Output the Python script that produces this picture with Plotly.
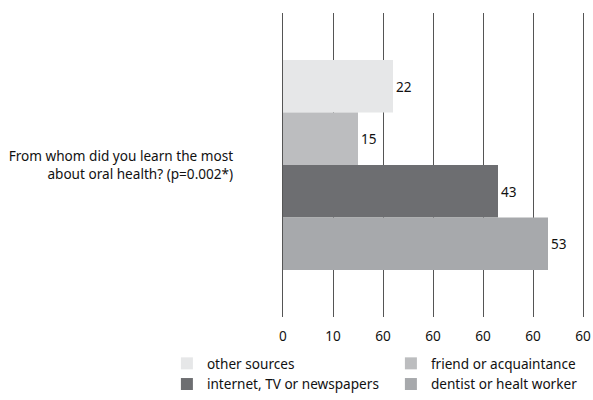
import plotly.graph_objects as go

category = ["From whom did you learn the most<br>about oral health? (p=0.002*)"]
series_names = ["other sources", "friend or acquaintance", "internet, TV or newspapers", "dentist or healt worker"]
series_values = [[22], [15], [43], [53]]
series_colors = ["#E6E7E8", "#BCBDBF", "#6D6E71", "#A7A9AC"]
tick_values = [0, 10, 20, 30, 40, 50, 60]
tick_labels = ["0", "10", "60", "60", "60", "60", "60"]

FONT = "Noto Sans"
FS = 13.6
GRID = "#555555"

fig = go.Figure()
for name, vals, col in zip(series_names, series_values, series_colors):
    fig.add_trace(go.Bar(
        y=category, x=vals, name=name, orientation="h",
        marker=dict(color=col, line=dict(width=0)),
        text=vals, texttemplate="%{x}", textposition="outside",
        textfont=dict(family=FONT, size=FS, color="#111"),
        cliponaxis=False,
    ))

fig.update_layout(
    width=593, height=400,
    margin=dict(l=283, r=10, t=13, b=83, autoexpand=False),
    paper_bgcolor="white", plot_bgcolor="white",
    barmode="group", bargap=0.31, bargroupgap=0,
    font=dict(family=FONT, size=FS, color="#111"),
    showlegend=True,
    legend=dict(
        orientation="h", x=-0.387, xanchor="left", y=-0.102, yanchor="top",
        entrywidth=179, entrywidthmode="pixels",
        font=dict(family=FONT, size=FS, color="#111"),
        tracegroupgap=0, itemwidth=30,
    ),
    xaxis=dict(
        range=[0, 60], tickvals=tick_values, ticktext=tick_labels,
        showgrid=True, gridcolor=GRID, gridwidth=1.2,
        zeroline=False, showline=False, ticks="", automargin=False,
        ticklabelstandoff=9,
        tickfont=dict(family=FONT, size=FS, color="#111"),
        fixedrange=True,
    ),
    yaxis=dict(
        autorange="reversed", showgrid=False, zeroline=False,
        showline=True, mirror=True, linecolor=GRID, linewidth=1.2,
        layer="above traces",
        ticks="", ticklabelstandoff=46, automargin=False,
        tickfont=dict(family=FONT, size=FS, color="#111"),
        fixedrange=True,
    ),
)

fig.write_html("out.html", config={"displayModeBar": False},
               post_script="document.body.style.margin='0';")
